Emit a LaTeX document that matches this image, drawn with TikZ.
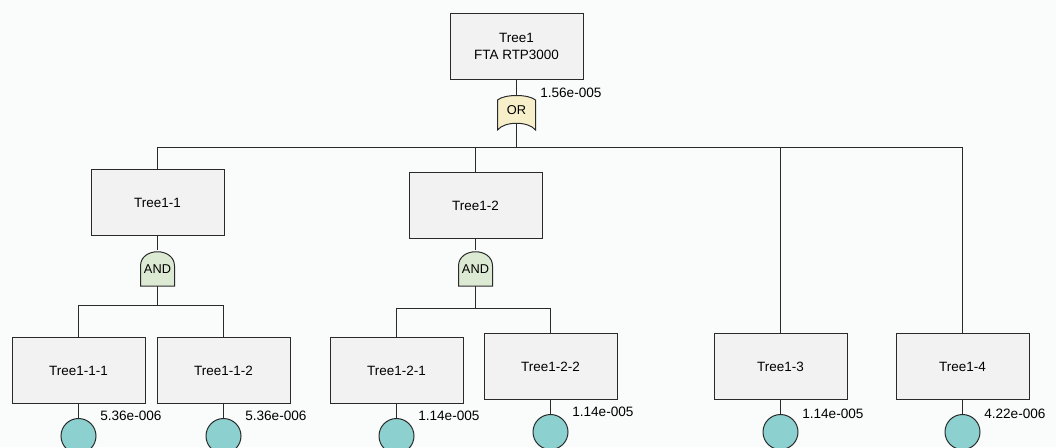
\documentclass[tikz,border=0pt]{standalone}
\usepackage{fontspec}
\setmainfont{Liberation Sans}
\usetikzlibrary{calc}
\definecolor{bg}{HTML}{FAFCFC}
\definecolor{boxfill}{HTML}{F2F2F2}
\definecolor{edge}{HTML}{2A2A2A}
\definecolor{orfill}{HTML}{F7EFC9}
\definecolor{andfill}{HTML}{DDEAD3}
\definecolor{evfill}{HTML}{8CD1D0}
\begin{document}
\begin{tikzpicture}[x=0.75pt,y=-0.75pt,
  evbox/.style={draw=edge, fill=boxfill, line width=0.75pt, minimum width=99.75pt, minimum height=49.5pt, inner sep=0pt, outer sep=0pt, align=center, font=\fontsize{10.1}{12.5}\selectfont},
  gatebox/.style={inner sep=0pt, outer sep=0pt, minimum width=25.5pt, minimum height=27pt},
  gateline/.style={draw=edge, line width=0.75pt},
  conn/.style={draw=edge, line width=0.75pt},
  basic/.style={circle, draw=edge, fill=evfill, line width=0.75pt, minimum size=26.25pt, inner sep=0pt, outer sep=0pt},
  prob/.style={anchor=west, inner sep=0pt, font=\fontsize{10.2}{12}\selectfont},
  gatetext/.style={inner sep=0pt, font=\fontsize{9.6}{11}\selectfont}
]
\fill[bg] (0,0) rectangle (1056,447);
\useasboundingbox (0,0) rectangle (1056,447);

% boxes
\node[evbox] (t) at (516.5,46.5) {Tree1\\FTA RTP3000};
\node[evbox] (t1) at (157.5,202.5) {Tree1-1};
\node[evbox] (t2) at (475.5,205.5) {Tree1-2};
\node[evbox] (t11) at (78.5,370.5) {Tree1-1-1};
\node[evbox] (t12) at (223.5,370.5) {Tree1-1-2};
\node[evbox] (t21) at (396.5,370.5) {Tree1-2-1};
\node[evbox] (t22) at (550.5,366.5) {Tree1-2-2};
\node[evbox] (t3) at (780.5,366.5) {Tree1-3};
\node[evbox] (t4) at (962.5,366.5) {Tree1-4};

% junction coordinates
\coordinate (j0) at (516.5,147.5);
\coordinate (j1) at (157.5,305.5);
\coordinate (j2) at (475.5,308.5);
\coordinate (orout) at (516.5,123);

% OR gate
\node[gatebox, minimum width=28.5pt, minimum height=25.5pt] (or) at (516.5,113) {};
\draw[gateline, fill=orfill] (or.south west) -- ($(or.north west)+(0,4)$)
  .. controls ($(or.north west)+(7,-2)$) and ($(or.north east)+(-7,-2)$) .. ($(or.north east)+(0,4)$)
  -- (or.south east)
  .. controls ($(or.south east)+(-7,-9)$) and ($(or.south west)+(7,-9)$) .. (or.south west) -- cycle;
\node[gatetext] at (516.5,110) {OR};

% AND gates
\node[gatebox] (a1) at (157.5,268) {};
\draw[gateline, fill=andfill] (a1.south west) -- ($(a1.west)+(0,-2)$)
  .. controls ($(a1.north west)+(0,-3)$) and ($(a1.north east)+(0,-3)$) .. ($(a1.east)+(0,-2)$)
  -- (a1.south east) -- cycle;
\node[gatetext] at ($(a1.center)+(0,1)$) {AND};

\node[gatebox] (a2) at (475.5,268) {};
\draw[gateline, fill=andfill] (a2.south west) -- ($(a2.west)+(0,-2)$)
  .. controls ($(a2.north west)+(0,-3)$) and ($(a2.north east)+(0,-3)$) .. ($(a2.east)+(0,-2)$)
  -- (a2.south east) -- cycle;
\node[gatetext] at ($(a2.center)+(0,1)$) {AND};

% connectors
\draw[conn] (t.south) -- ($(or.north)+(0,-1)$);
\draw[conn] (orout) -- (j0);
\draw[conn] (t1.north) |- (j0);
\draw[conn] (t2.north) |- (j0);
\draw[conn] (t3.north) |- (j0);
\draw[conn] (t4.north) |- (j0);

\draw[conn] (t1.south) -- (a1.north);
\draw[conn] (a1.south) -- (j1);
\draw[conn] (t11.north) |- (j1);
\draw[conn] (t12.north) |- (j1);

\draw[conn] (t2.south) -- (a2.north);
\draw[conn] (a2.south) -- (j2);
\draw[conn] (t21.north) |- (j2);
\draw[conn] (t22.north) |- (j2);

% basic events
\foreach \b in {t11,t12,t21,t22,t3,t4}{
  \node[basic, anchor=north] (e\b) at ($(\b.south)+(0,15)$) {};
  \draw[conn] (\b.south) -- (e\b.north);
}

% probability labels
\node[prob] (p0) at (540,93) {1.56e-005};
\node[prob] (p11) at ($(t11.south)+(21.5,12)$) {5.36e-006};
\node[prob] (p12) at ($(t12.south)+(21.5,12)$) {5.36e-006};
\node[prob] (p21) at ($(t21.south)+(21.5,12)$) {1.14e-005};
\node[prob] (p22) at ($(t22.south)+(21.5,12)$) {1.14e-005};
\node[prob] (p3) at ($(t3.south)+(21.5,14)$) {1.14e-005};
\node[prob] (p4) at ($(t4.south)+(21.5,14)$) {4.22e-006};
\end{tikzpicture}
\end{document}
